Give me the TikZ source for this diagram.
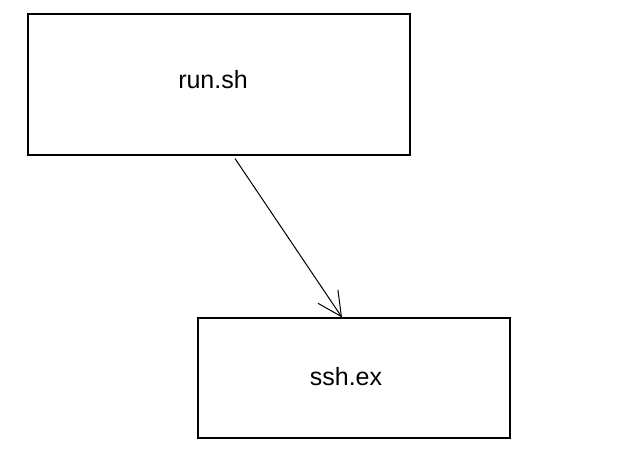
\documentclass[tikz,border=0pt]{standalone}
\usepackage{fontspec}
\setmainfont{Liberation Sans}
\usetikzlibrary{arrows.meta}
\begin{document}
\begin{tikzpicture}
      [x=1pt,y=-1pt,box/.style={draw, rectangle, line width=1.1pt},
       lbl/.style={font=\fontsize{25}{29}\selectfont}]
    \useasboundingbox (0,0) rectangle (620,465);
    \node[box, minimum width=382pt, minimum height=141pt] (runsh) at (219,84.5) {};
    \node[box, minimum width=312pt, minimum height=120pt] (sshex) at (354,378) {};
    \node[lbl] (runshtext) at (213,80) {run.sh};
    \node[lbl] (sshextext) at (346,377) {ssh.ex};

    \draw[line width=1pt, -{Straight Barb[length=24pt,width=24pt]}]
      ([xshift=16pt,yshift=-3pt]runsh.south) -- ([xshift=-12pt]sshex.north);
  \end{tikzpicture}
\end{document}
